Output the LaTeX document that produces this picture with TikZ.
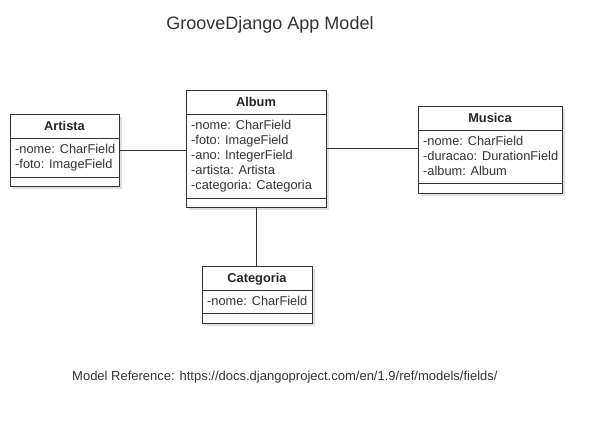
\documentclass[tikz,border=0pt]{standalone}
\usepackage{fontspec}
\setmainfont{Liberation Sans}
\usetikzlibrary{shadows}

\tikzset{
  classbox/.style={draw=black!80, line width=1pt, fill=white, anchor=north west,
    inner sep=0pt, outer sep=0pt,
    drop shadow={shadow xshift=3pt, shadow yshift=-3pt, fill=black, opacity=0.12}},
  classname/.style={font=\bfseries\fontsize{12.8}{15}\selectfont, text=black!85,
    anchor=base, inner sep=0pt},
  fieldlist/.style={font=\fontsize{12.8}{15}\selectfont, text=black!80, align=left,
    anchor=north west, inner sep=0pt},
  link/.style={draw=black!80, line width=1pt},
}

\begin{document}
\begin{tikzpicture}[x=1pt, y=-1pt]
    \useasboundingbox (0,0) rectangle (602,426);

    \node[font=\fontsize{18}{21}\selectfont, text=black!80, anchor=base, inner sep=0pt] (title) at (270,29) {GrooveDjango App Model};

    \foreach \name/\x/\y/\w/\h/\sep/\title/\fields in {
        artista/10/114/109/72/63/Artista/{-nome: CharField\\-foto: ImageField},
        album/186/90/140/117/108/Album/{-nome: CharField\\-foto: ImageField\\-ano: IntegerField\\-artista: Artista\\-categoria: Categoria},
        musica/418/106/144/87/77/Musica/{-nome: CharField\\-duracao: DurationField\\-album: Album},
        categoria/202/266/110/57/47/Categoria/{-nome: CharField}
    }{
        \node[classbox, minimum width=\w, minimum height=\h] (\name) at (\x,\y) {};
        \node[classname] (\name-name) at ([yshift=-16.5pt]\name.north) {\title};
        \node[fieldlist] (\name-fields) at ([shift={(5pt,-30.5pt)}]\name.north west) {\fields};
        \draw[link] ([yshift=-24pt]\name.north west) -- ([yshift=-24pt]\name.north east);
        \draw[link] ([yshift=-\sep]\name.north west) -- ([yshift=-\sep]\name.north east);
    }

    \draw[link] (artista.east) -- (artista.east -| album.west);
    \draw[link] (album.east) -- (album.east -| musica.west);
    \draw[link] (album.south) -- (album.south |- categoria.north);

    \node[font=\fontsize{13}{15}\selectfont, text=black!80, anchor=base west, inner sep=0pt] (reference) at (72,380) {Model Reference: https://docs.djangoproject.com/en/1.9/ref/models/fields/};
\end{tikzpicture}
\end{document}
